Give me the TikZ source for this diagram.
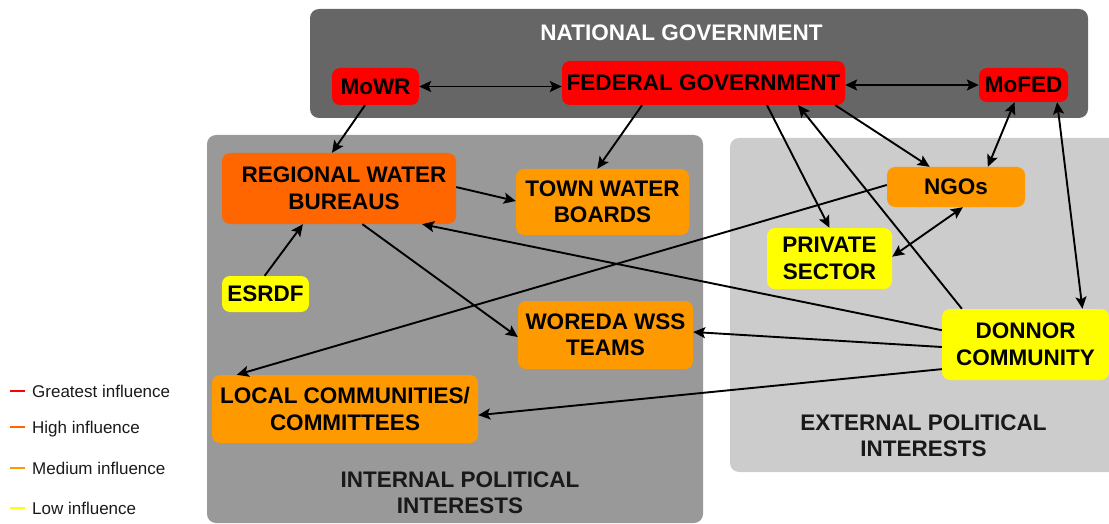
\documentclass[tikz,border=0pt]{standalone}
\usepackage{fontspec}
\setmainfont{Liberation Sans}
\usetikzlibrary{arrows.meta,calc}
\definecolor{natgrey}{HTML}{666666}
\definecolor{intgrey}{HTML}{999999}
\definecolor{extgrey}{HTML}{CCCCCC}
\definecolor{infred}{HTML}{FF0000}
\definecolor{infhigh}{HTML}{FF6600}
\definecolor{infmed}{HTML}{FF9900}
\definecolor{inflow}{HTML}{FFFF00}
\definecolor{legtext}{HTML}{1A1A1A}
\newcommand{\actorfont}{\fontsize{22.5}{26.5}\selectfont\bfseries}
\newcommand{\legendfont}{\fontsize{17}{20}\selectfont}
\tikzset{
  actor/.style={rectangle, rounded corners=8pt, inner sep=0pt, align=center,
                font=\actorfont, text=black},
  greatest/.style={actor, fill=infred},
  high/.style={actor, fill=infhigh},
  medium/.style={actor, fill=infmed},
  low/.style={actor, fill=inflow},
  paneltitle/.style={align=center, font=\actorfont, inner sep=0pt},
  link/.style={line width=1.9pt, -{Stealth[length=12pt,width=11pt,inset=2.5pt]}},
  mutual/.style={line width=1.9pt,
     {Stealth[length=12pt,width=11pt,inset=2.5pt]}-{Stealth[length=12pt,width=11pt,inset=2.5pt]}},
  legendline/.style={line width=2pt},
  legendlabel/.style={anchor=base west, inner sep=0pt, font=\legendfont, text=legtext},
}
\begin{document}
\begin{tikzpicture}[x=1pt,y=-1pt]
\useasboundingbox (0,0) rectangle (1109,524);

% ---- background panels ----
\fill[natgrey, rounded corners=9pt] (310,9) rectangle (1088,118);
\fill[intgrey, rounded corners=9pt] (207,135) rectangle (703,523);
\begin{scope}
  \clip (0,0) rectangle (1109,524);
  \fill[extgrey, rounded corners=9pt] (730,138) rectangle (1130,472);
\end{scope}

% ---- panel titles ----
\node[paneltitle, text=white] (natTitle) at (681.5,33) {NATIONAL GOVERNMENT};
\node[paneltitle, text=black!90] (intTitle) at (460,493) {INTERNAL POLITICAL\\INTERESTS};
\node[paneltitle, text=black!90] (extTitle) at (923.5,436) {EXTERNAL POLITICAL\\INTERESTS};

% ---- actors ----
\node[greatest, minimum width=87pt, minimum height=37pt] (mowr) at (375.5,86.5) {MoWR};
\node[greatest, minimum width=283pt, minimum height=44pt] (fed) at (703.5,83) {FEDERAL GOVERNMENT};
\node[greatest, minimum width=89pt, minimum height=34pt] (mofed) at (1023.5,85) {MoFED};

\node[high, minimum width=234pt, minimum height=71pt] (rwb) at (339,188.5) {\hspace*{10pt}REGIONAL WATER\\\hspace*{10pt}BUREAUS};
\node[medium, minimum width=173pt, minimum height=66pt] (twb) at (602.5,202) {TOWN WATER\\BOARDS};
\node[low, minimum width=87pt, minimum height=36pt] (esrdf) at (265.5,294) {ESRDF};
\node[medium, minimum width=175pt, minimum height=68pt] (woreda) at (605.5,335) {WOREDA WSS\\TEAMS};
\node[medium, minimum width=266pt, minimum height=68pt] (local) at (345,409) {LOCAL COMMUNITIES/\\COMMITTEES};

\node[medium, minimum width=138pt, minimum height=40pt] (ngo) at (956,187) {NGOs};
\node[low, minimum width=125pt, minimum height=61pt] (priv) at (829.5,258.5) {PRIVATE\\SECTOR};
\node[low, minimum width=167pt, minimum height=71pt] (donor) at (1025.5,344.5) {DONNOR\\COMMUNITY};

% ---- influence links ----
\draw[mutual] (mowr.east) -- (fed.west |- mowr.east);
\draw[mutual] (fed.east |- mofed.west) -- (mofed.west);

\draw[link] ($(mowr.south west)!0.38!(mowr.south east)$) -- ($(rwb.north west)!0.47!(rwb.north east)$);
\draw[link] ($(fed.south west)!0.283!(fed.south east)$) -- ($(twb.north west)!0.47!(twb.north east)$);
\draw[link] ($(fed.south west)!0.724!(fed.south east)$) -- ($(priv.north west)!0.5!(priv.north east)$);
\draw[link] ($(donor.north west)!0.12!(donor.north east)$) -- ($(fed.south west)!0.834!(fed.south east)$);
\draw[link] ($(fed.south west)!0.965!(fed.south east)$) -- ($(ngo.north west)!0.31!(ngo.north east)$);
\draw[mutual] ($(mofed.south west)!0.40!(mofed.south east)$) -- ($(ngo.north west)!0.73!(ngo.north east)$);
\draw[mutual] ($(mofed.south west)!0.876!(mofed.south east)$) -- ($(donor.north west)!0.84!(donor.north east)$);
\draw[mutual] ($(ngo.south west)!0.55!(ngo.south east)$) -- ($(priv.north east)!0.47!(priv.south east)$);
\draw[link] ($(ngo.north west)!0.45!(ngo.south west)$) -- ($(local.north west)!0.094!(local.north east)$);

\draw[link] ($(donor.north west)!0.30!(donor.south west)$) -- ($(rwb.south west)!0.855!(rwb.south east)$);
\draw[link] ($(donor.north west)!0.535!(donor.south west)$) -- ($(woreda.north east)!0.456!(woreda.south east)$);
\draw[link] ($(donor.north west)!0.845!(donor.south west)$) -- ($(local.north east)!0.59!(local.south east)$);

\draw[link] ($(rwb.north east)!0.48!(rwb.south east)$) -- ($(twb.north west)!0.485!(twb.south west)$);
\draw[link] ($(esrdf.north west)!0.49!(esrdf.north east)$) -- ($(rwb.south west)!0.346!(rwb.south east)$);
\draw[link] ($(rwb.south west)!0.60!(rwb.south east)$) -- ($(woreda.north west)!0.53!(woreda.south west)$);

% ---- legend ----
\draw[legendline, infred]  (10,391) -- (25,391);
\draw[legendline, infhigh] (10,427) -- (25,427);
\draw[legendline, infmed]  (10,468) -- (25,468);
\draw[legendline, inflow]  (10,508) -- (25,508);
\node[legendlabel] (legGreatest) at (32,397) {Greatest influence};
\node[legendlabel] (legHigh) at (32,433) {High influence};
\node[legendlabel] (legMedium) at (32,474) {Medium influence};
\node[legendlabel] (legLow) at (32,514) {Low influence};
\end{tikzpicture}
\end{document}
